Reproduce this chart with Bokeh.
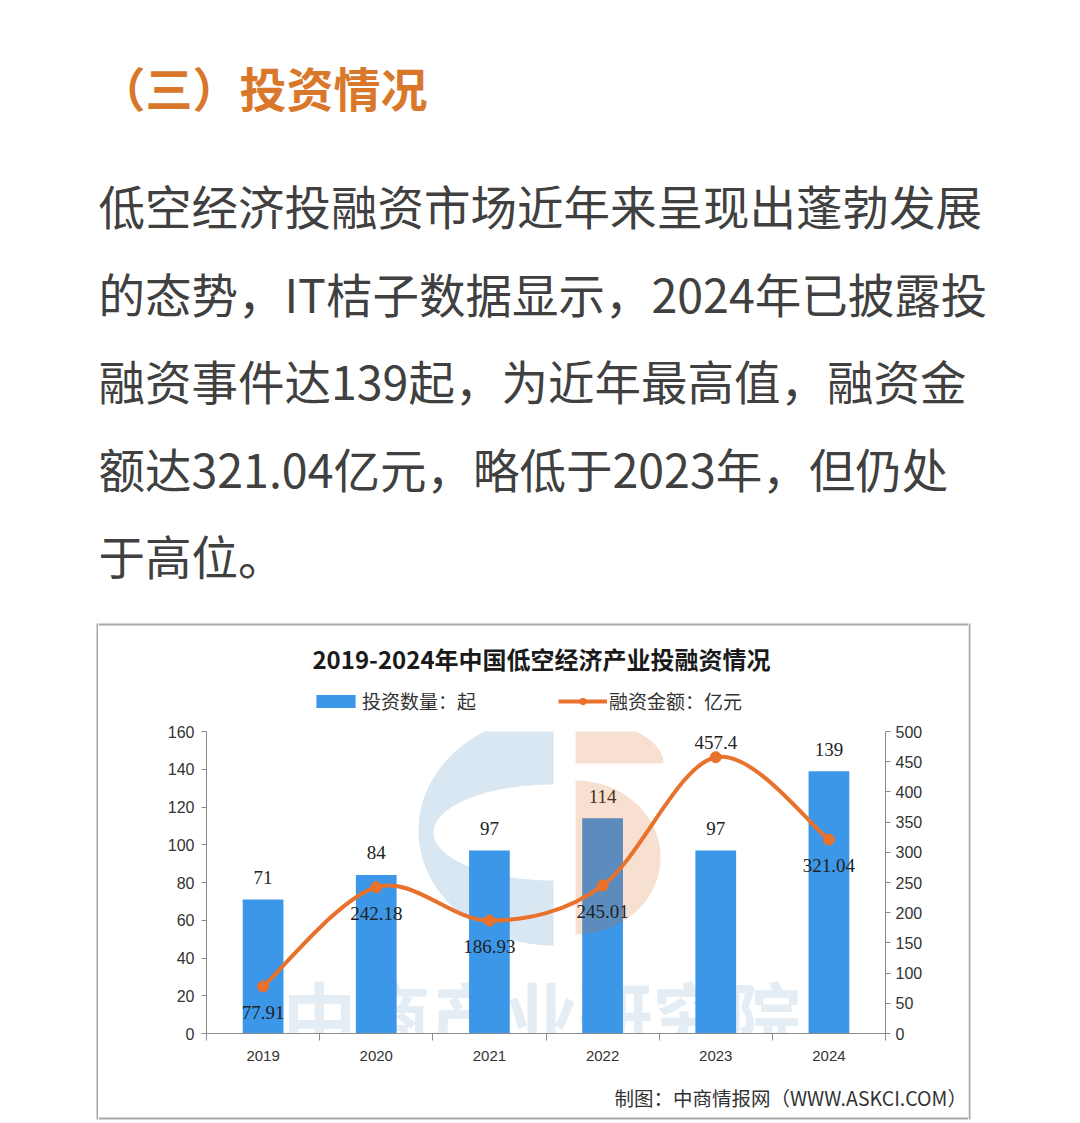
import numpy as np
from bokeh.plotting import figure
from bokeh.models import (Range1d, LinearAxis, FixedTicker, Legend, LegendItem,
                          ColumnDataSource)
from bokeh.layouts import column, row
from bokeh.core.properties import value
from bokeh.embed import file_html
from bokeh.resources import INLINE

# ---------------- data ----------------
years = ["2019", "2020", "2021", "2022", "2023", "2024"]
deal_counts = [71, 84, 97, 114, 97, 139]                          # 投资数量：起
funding_amounts = [77.91, 242.18, 186.93, 245.01, 457.4, 321.04]  # 融资金额：亿元
funding_labels = ["77.91", "242.18", "186.93", "245.01", "457.4", "321.04"]
left_ticks = [0, 20, 40, 60, 80, 100, 120, 140, 160]
right_ticks = [0, 50, 100, 150, 200, 250, 300, 350, 400, 450, 500]

heading = "（三）投资情况"
paragraph_lines = [
    "低空经济投融资市场近年来呈现出蓬勃发展",
    "的态势，IT桔子数据显示，2024年已披露投",
    "融资事件达139起，为近年最高值，融资金",
    "额达321.04亿元，略低于2023年，但仍处",
    "于高位。",
]
chart_title = "2019-2024年中国低空经济产业投融资情况"
legend_bar = "投资数量：起"
legend_line = "融资金额：亿元"
source_note = "制图：中商情报网（WWW.ASKCI.COM）"
watermark = "中商产业研究院"

# ---------------- layout (page pixels) ----------------
PAGE_W = 1064
TOP_H = 622            # heading + paragraph block
BOX_L, BOX_R = 96, 970  # chart box outer edges
BOX_T, BOX_B = 622, 1120
IN_L, IN_R = 98, 968
C_H = 96               # title + legend strip (622..718)
B_T, B_B = 718, 1070   # chart figure
FL, FR, FT, FB = 206, 885, 731, 1033   # plot frame on the page
N = len(years)
YMAX_L, YMAX_R = 160, 500

CJK = "Noto Sans CJK SC"
BAR_C = "#3c97e8"
LINE_C = "#e8722c"
AXIS_C = "#8c8c8c"
BORDER_C = "#a8a8a8"
FAR = -1.0e4   # off-screen position for legend proxy glyphs


def px2x(px):
    return (px - FL) / ((FR - FL) / N)


def py2y(py):
    return (FB - py) * YMAX_L / (FB - FT)


def ell(cx, cy, rx, ry, a0, a1, n=80):
    a = np.radians(np.linspace(a0, a1, n))
    return list(cx + rx * np.cos(a)), list(cy - ry * np.sin(a))


def blank(w, h, x0, x1, y_top, y_bot):
    f = figure(width=w, height=h, x_range=Range1d(x0, x1), y_range=Range1d(y_bot, y_top),
               min_border=0, output_backend="svg", toolbar_location=None, tools="",
               x_axis_type=None, y_axis_type=None, title=None)
    f.outline_line_color = None
    f.background_fill_color = "white"
    f.border_fill_color = "white"
    return f


# ---------------- heading & paragraph ----------------
top = blank(PAGE_W, TOP_H, 0, PAGE_W, 0, TOP_H)
top.text(x=[98], y=[86], text=[heading], text_align="left", text_baseline="middle",
         text_font=value(CJK), text_font_style="bold", text_font_size="47px",
         text_color="#d9772b")
para_src = ColumnDataSource(dict(x=[98] * len(paragraph_lines),
                                 y=[204 + 87.5 * i for i in range(len(paragraph_lines))],
                                 t=paragraph_lines))
top.text(x="x", y="y", text="t", source=para_src, text_align="left",
         text_baseline="middle", text_font=value(CJK), text_font_size="46.5px",
         text_color="#404040")

# ---------------- box sides ----------------
left_side = blank(IN_L, BOX_B - BOX_T, 0, IN_L, BOX_T, BOX_B)
left_side.quad(left=[BOX_L], right=[IN_L], top=[BOX_T + 1], bottom=[BOX_B - 1],
               fill_color=BORDER_C, line_color=None)
right_side = blank(4, BOX_B - BOX_T, IN_R, IN_R + 4, BOX_T, BOX_B)
right_side.quad(left=[IN_R], right=[BOX_R], top=[BOX_T + 1], bottom=[BOX_B - 1],
                fill_color=BORDER_C, line_color=None)

# ---------------- title + legend strip ----------------
strip = blank(IN_R - IN_L, C_H, IN_L, IN_R, BOX_T, BOX_T + C_H)
strip.quad(left=[IN_L], right=[IN_R], top=[BOX_T + 1], bottom=[BOX_T + 3],
           fill_color=BORDER_C, line_color=None)
strip.text(x=[541], y=[658], text=[chart_title], text_align="center",
           text_baseline="middle", text_font=value(CJK), text_font_style="bold",
           text_font_size="24px", text_color="#1a1a1a")
lg_bar = strip.vbar(x=[FAR], top=[BOX_T], bottom=[BOX_T + 1], width=1,
                    fill_color=BAR_C, line_color=None)
lg_line = strip.line(x=[FAR, FAR + 1], y=[BOX_T, BOX_T], line_color=LINE_C, line_width=4)
lg_mark = strip.scatter(x=[FAR], y=[BOX_T], size=11, fill_color=LINE_C, line_color=LINE_C)
legend = Legend(items=[LegendItem(label=legend_bar, renderers=[lg_bar]),
                       LegendItem(label=legend_line, renderers=[lg_line, lg_mark])],
                orientation="horizontal", location=(311 - IN_L, 4),
                glyph_width=49, glyph_height=16, label_standoff=2, spacing=82,
                padding=0, margin=0, border_line_color=None,
                background_fill_alpha=0, label_text_font=CJK,
                label_text_font_size="19px", label_text_color="#333333")
strip.add_layout(legend, "center")

# ---------------- main chart ----------------
p = figure(width=IN_R - IN_L, height=B_B - B_T, x_range=Range1d(0, N),
           y_range=Range1d(0, YMAX_L),
           min_border_left=FL - IN_L, min_border_right=IN_R - FR,
           min_border_top=FT - B_T, min_border_bottom=B_B - FB,
           output_backend="svg", toolbar_location=None, tools="",
           x_axis_type=None, y_axis_type=None, title=None)
p.extra_y_ranges = {"amt": Range1d(0, YMAX_R)}
p.outline_line_color = None
p.background_fill_color = "white"
p.border_fill_color = "white"

centers = [i + 0.5 for i in range(N)]
bounds = list(range(N + 1))

ly = LinearAxis(ticker=FixedTicker(ticks=left_ticks, minor_ticks=[]))
ry = LinearAxis(y_range_name="amt", ticker=FixedTicker(ticks=right_ticks, minor_ticks=[]))
bx = LinearAxis(ticker=FixedTicker(ticks=centers, minor_ticks=bounds),
                major_label_overrides={c: y for c, y in zip(centers, years)})
for ax in (ly, ry, bx):
    ax.axis_line_color = AXIS_C
    ax.major_tick_line_color = AXIS_C
    ax.minor_tick_line_color = AXIS_C
    ax.major_tick_in = 0
    ax.minor_tick_in = 0
    ax.major_label_text_font = "Liberation Sans"
    ax.major_label_text_color = "#333333"
    ax.major_label_text_font_size = "16px"
for ax in (ly, ry):
    ax.major_tick_out = 5
    ax.minor_tick_out = 0
ly.major_label_standoff = 7
ry.major_label_standoff = 5
bx.major_tick_out = 0
bx.minor_tick_out = 7
bx.major_label_standoff = 10
bx.major_label_text_font_size = "15px"
p.add_layout(ly, "left")
p.add_layout(ry, "right")
p.add_layout(bx, "below")

# watermark behind bars
p.text(x=[px2x(541)], y=[py2y(1012)], text=[watermark], text_align="center",
       text_baseline="middle", text_font=value(CJK), text_font_style="bold",
       text_font_size="74px", text_color="#e4edf4", level="underlay")
ox, oy = ell(553, 830, 135, 115, 90, 270)
hx, hy = ell(553, 832, 120, 48, 270, 90)
p.patch([px2x(v) for v in ox + hx], [py2y(v) for v in oy + hy], fill_color="#d8e7f1",
        line_color=None, level="underlay")

# bars
bar_src = ColumnDataSource(dict(x=centers, top=deal_counts,
                                lab=[str(v) for v in deal_counts]))
p.vbar(x="x", top="top", width=0.36, source=bar_src, fill_color=BAR_C, line_color=None)
p.text(x="x", y="top", text="lab", source=bar_src, text_align="center",
       text_baseline="middle", y_offset=-22, text_font=value("Liberation Serif"),
       text_font_size="19px", text_color="#222222")

# orange part of watermark, blended over bars
tx, ty = ell(575, 763, 88, 44, 0, 90)
dx, dy = ell(575, 857, 85, 77, -90, 90)
p.patches([[px2x(v) for v in [575] + tx], [px2x(v) for v in dx]],
          [[py2y(v) for v in [763] + ty], [py2y(v) for v in dy]],
          fill_color="#dc6414", fill_alpha=0.2, line_color=None)

# smooth line (Catmull-Rom -> Bezier)
xs = np.array(centers)
ys = np.array(funding_amounts)
qx = np.concatenate([[xs[0]], xs, [xs[-1]]])
qy = np.concatenate([[ys[0]], ys, [ys[-1]]])
seg = dict(x0=[], y0=[], x1=[], y1=[], cx0=[], cy0=[], cx1=[], cy1=[])
for i in range(1, N):
    seg["x0"].append(qx[i]); seg["y0"].append(qy[i])
    seg["x1"].append(qx[i + 1]); seg["y1"].append(qy[i + 1])
    seg["cx0"].append(qx[i] + (qx[i + 1] - qx[i - 1]) / 6)
    seg["cy0"].append(qy[i] + (qy[i + 1] - qy[i - 1]) / 6)
    seg["cx1"].append(qx[i + 1] - (qx[i + 2] - qx[i]) / 6)
    seg["cy1"].append(qy[i + 1] - (qy[i + 2] - qy[i]) / 6)
p.bezier(source=ColumnDataSource(seg), x0="x0", y0="y0", x1="x1", y1="y1",
         cx0="cx0", cy0="cy0", cx1="cx1", cy1="cy1", y_range_name="amt",
         line_color=LINE_C, line_width=4)
amt_src = ColumnDataSource(dict(x=centers, y=funding_amounts, lab=funding_labels,
                                off=[-15 if v == max(funding_amounts) else 26
                                     for v in funding_amounts]))
p.scatter(x="x", y="y", source=amt_src, size=11, fill_color=LINE_C,
          line_color=LINE_C, y_range_name="amt")
p.text(x="x", y="y", text="lab", y_offset="off", source=amt_src, y_range_name="amt",
       text_align="center", text_baseline="middle", text_font=value("Liberation Serif"),
       text_font_size="19px", text_color="#222222")

# ---------------- source note + bottom edge ----------------
foot = blank(IN_R - IN_L, BOX_B - B_B, IN_L, IN_R, B_B, BOX_B)
foot.text(x=[614], y=[1097], text=[source_note], text_align="left",
          text_baseline="middle", text_font=value(CJK), text_font_size="19.5px",
          text_color="#333333")
foot.quad(left=[IN_L], right=[IN_R], top=[BOX_B - 3], bottom=[BOX_B - 1],
          fill_color=BORDER_C, line_color=None)

layout = column(top, row(left_side, column(row(strip), row(p), row(foot)), right_side))
open("out.html", "w").write(file_html(layout, INLINE))
